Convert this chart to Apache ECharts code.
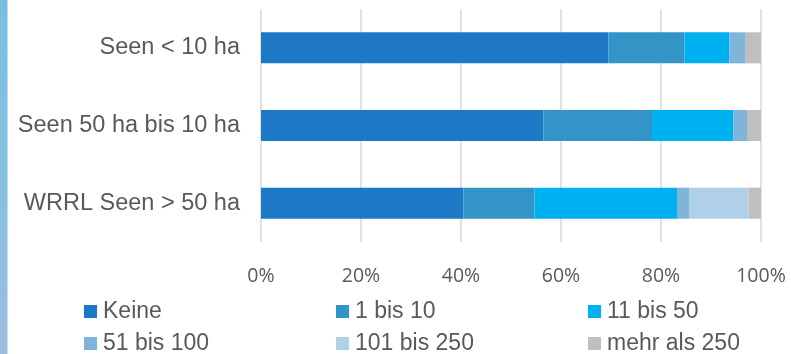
<!DOCTYPE html>
<html>
<head>
<meta charset="utf-8">
<script src="https://cdn.jsdelivr.net/npm/echarts@6/dist/echarts.min.js"></script>
<style>
html,body{margin:0;padding:0;background:#fff;}
#chart{width:791px;height:354px;}
</style>
</head>
<body>
<div id="chart"></div>
<script>
const categories = ['Seen < 10 ha', 'Seen 50 ha bis 10 ha', 'WRRL Seen > 50 ha'];
const seriesNames = ['Keine', '1 bis 10', '11 bis 50', '51 bis 100', '101 bis 250', 'mehr als 250'];
const keine = [69.5, 56.5, 40.5];
const bis10 = [15.2, 21.7, 14.2];
const bis50 = [9.0, 16.3, 28.5];
const bis100 = [3.1, 2.7, 2.4];
const bis250 = [0, 0, 11.9];
const mehr250 = [3.2, 2.8, 2.5];
const tickValues = [0, 20, 40, 60, 80, 100];

const seriesData = [keine, bis10, bis50, bis100, bis250, mehr250];
const colors = ['#1D78C5', '#3395C7', '#00B1F1', '#80B5DB', '#B0D0E8', '#BFBFBF'];
const legendLeft = [84, 336, 588, 84, 336, 588];
const legendTop = [300, 300, 300, 332, 332, 332];

const chart = echarts.init(document.getElementById('chart'));
const option = {
  animation: false,
  backgroundColor: '#ffffff',
  graphic: [{
    type: 'rect',
    left: 0, top: 0,
    shape: {width: 7.5, height: 354},
    style: {fill: new echarts.graphic.LinearGradient(0, 0, 0, 1, [
      {offset: 0, color: '#7BBDE0'},
      {offset: 0.5, color: '#84C1DF'},
      {offset: 1, color: '#9CBDE2'}
    ])},
    silent: true
  }],
  grid: {left: 261, right: 30, top: 9, bottom: 112, containLabel: false},
  xAxis: {
    type: 'value',
    min: 0, max: 100, interval: 20,
    axisLine: {show: false},
    axisTick: {show: false},
    splitLine: {show: true, lineStyle: {color: '#D9D9D9', width: 1.5}},
    axisLabel: {
      margin: 24,
      formatter: function (v) { return tickValues.indexOf(v) >= 0 ? v + '%' : ''; },
      color: '#595959',
      fontFamily: 'Open Sans',
      fontSize: 19.5
    }
  },
  yAxis: {
    type: 'category',
    inverse: true,
    data: categories,
    axisLine: {show: false},
    axisTick: {show: false},
    splitLine: {show: false},
    axisLabel: {
      margin: 21,
      color: '#595959',
      fontFamily: 'Liberation Sans',
      fontSize: 23.5
    }
  },
  legend: seriesNames.map(function (name, i) {
    return {
      data: [name],
      left: legendLeft[i],
      top: legendTop[i],
      padding: 0,
      itemWidth: 13,
      itemHeight: 13,
      itemGap: 0,
      icon: 'rect',
      selectedMode: false,
      textStyle: {color: '#595959', fontFamily: 'Liberation Sans', fontSize: 23, lineHeight: 23, padding: [0, 0, 0, 1]}
    };
  }),
  series: seriesNames.map(function (name, i) {
    return {
      name: name,
      type: 'bar',
      stack: 'total',
      barWidth: '40%',
      itemStyle: {color: colors[i]},
      data: seriesData[i]
    };
  })
};
chart.setOption(option);
</script>
</body>
</html>
